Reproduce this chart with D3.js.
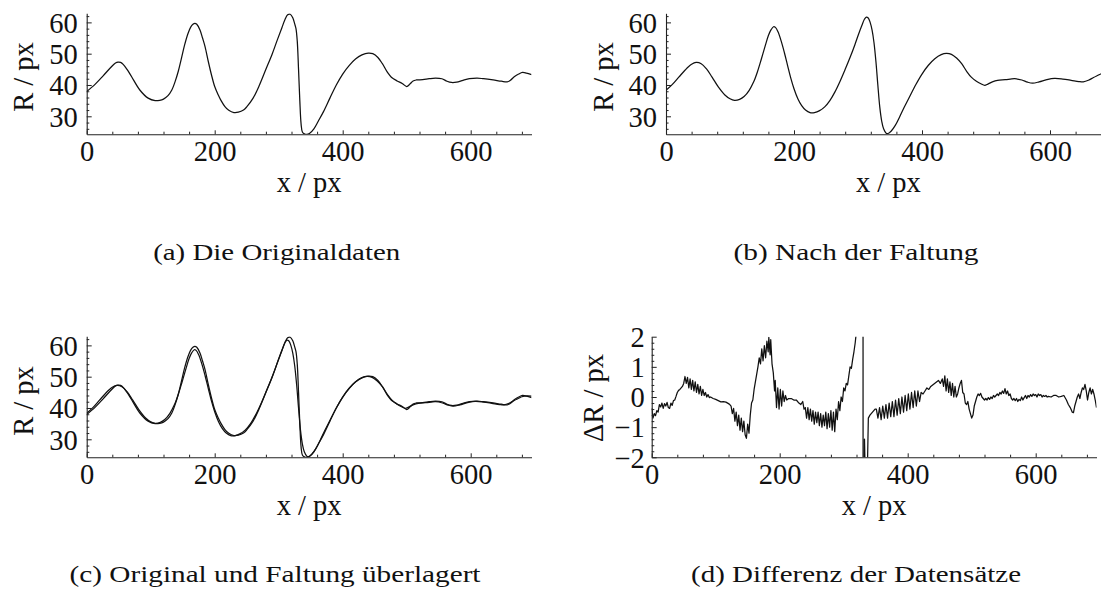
<!DOCTYPE html>
<html>
<head>
<meta charset="utf-8">
<script src="https://cdn.jsdelivr.net/npm/d3@7"></script>
<style>
  html, body { margin: 0; padding: 0; background: #fff; }
  svg { display: block; }
</style>
</head>
<body>
<svg id="chart" width="1101" height="590"></svg>
<script>
// ---------------- DATA ----------------
// (a) original radius profile R(x) in px: [x, R]
const originalData = [
  [0,37.9],[13,40.2],[26,43.0],[39,45.9],[45,47.0],[49,47.3],[53,47.2],[57,46.6],[63,45.0],
  [70,42.7],[83,38.4],[96,35.8],[107,35.0],[114,35.1],[120,35.5],[127,36.6],[133,38.4],
  [138,41.0],[143,44.3],[148,48.5],[153,52.8],[158,56.3],[162.5,58.5],[166,59.4],[169,59.7],
  [172,59.4],[177,57.6],[181,55.0],[185,52.2],[190,47.5],[195,43.2],[200,39.5],[205.6,36.8],
  [210,35.0],[216,33.1],[222,31.9],[230,31.2],[237,31.3],[245,32.0],[250,33.0],[260,35.8],
  [270,40.0],[280,45.0],[290,50.0],[298,54.5],[305,58.3],[310,61.0],[314,62.4],[318,62.6],
  [322,61.5],[325,59.5],[327,58.0],[329,54.0],[331,45.0],[333,35.0],[335,27.5],[337,25.0],
  [340,24.4],[344,24.2],[348,24.5],[355,26.0],[362,28.5],[370,31.5],[380,35.8],[390,40.0],
  [400,43.5],[410,46.2],[420,48.3],[430,49.6],[440,50.2],[447,50.0],[455,48.8],[462,46.8],
  [470,44.0],[476,42.5],[485,41.3],[493,40.5],[500,39.5],[505,40.3],[510,41.3],[515,41.6],
  [525,41.7],[535,42.0],[545,42.2],[555,42.0],[563,41.2],[570,40.8],[578,40.9],[588,41.5],
  [598,42.0],[610,42.2],[620,42.0],[635,41.6],[648,41.2],[657,41.0],[662,41.5],[668,42.6],
  [675,43.5],[681,44.0],[687,43.8],[695,43.3]
];

// (b) after convolution: [x, R]
const convolvedData = [
  [0,38.3],[10,40.2],[20,42.5],[30,44.8],[40,46.6],[47,47.2],[55,46.8],[63,45.2],[72,42.5],
  [82,39.3],[92,36.8],[100,35.6],[107,35.1],[115,35.4],[122,36.3],[130,38.3],[137,41.0],
  [143,44.3],[149,48.3],[155,52.5],[160,55.8],[164,57.6],[168,58.6],[171,58.4],[175,57.0],
  [180,54.0],[185,50.3],[190,46.2],[195,42.2],[200,38.8],[206,35.6],[212,33.4],[218,32.0],
  [225,31.2],[232,31.2],[240,31.8],[248,33.0],[256,35.0],[264,37.8],[272,41.2],[280,45.0],
  [288,49.0],[295,52.8],[301,56.3],[306,59.0],[310,61.0],[313,61.7],[316,61.4],[319,60.0],
  [322,57.5],[325,53.5],[328,47.5],[331,40.0],[334,33.0],[337,28.5],[340,26.0],[344,24.6],
  [347,24.5],[352,25.3],[358,27.0],[365,29.8],[372,32.8],[380,36.0],[390,40.0],[400,43.5],
  [410,46.3],[420,48.4],[430,49.7],[438,50.1],[446,49.8],[454,48.6],[462,46.8],[470,44.3],
  [477,42.5],[485,41.2],[492,40.4],[498,39.9],[503,40.3],[510,41.0],[518,41.5],[530,41.7],
  [545,42.0],[556,41.6],[565,40.9],[573,40.6],[583,41.0],[595,41.7],[607,42.1],[620,41.9],
  [633,41.5],[645,41.1],[652,41.0],[660,41.5],[668,42.4],[675,43.1],[680,43.6],[688,43.9],[695,43.8]
];

// (d) difference of the data sets: [x, ΔR]
const differenceData = [
  [0,-0.37],[2,-0.7],[4,-0.55],[6,-0.62],[8,-0.45],[10,-0.5],[12,-0.25],[14,-0.33],[16,-0.2],
  [18,-0.38],[20,-0.22],[22,-0.3],[24,-0.18],[26,-0.35],[28,-0.38],[30,-0.2],[32,-0.28],
  [34,-0.12],[36,-0.1],[38,0.02],[40,0.15],[42,0.22],[44,0.25],[46,0.3],[48,0.35],[50,0.45],
  [52,0.68],[54,0.45],[56,0.65],[58,0.3],[60,0.6],[62,0.25],[64,0.55],[66,0.2],[68,0.5],
  [70,0.15],[72,0.42],[74,0.1],[76,0.35],[78,0.05],[80,0.25],[82,0.05],[84,0.15],[86,0.0],
  [88,0.08],[90,-0.02],[92,0.0],[96,-0.05],[100,-0.08],[104,-0.12],[108,-0.16],[112,-0.15],
  [116,-0.17],[120,-0.22],[122,-0.25],[124,-0.3],[126,-0.55],[128,-0.38],[130,-0.8],[132,-0.5],
  [134,-0.95],[136,-0.6],[138,-1.1],[140,-0.7],[142,-1.15],[144,-0.8],[146,-1.25],[148,-1.37],
  [150,-0.9],[152,-1.2],[154,-0.6],[156,-0.2],[158,-0.1],[160,0.25],[162,0.5],[164,0.75],
  [166,1.0],[168,1.3],[170,1.1],[172,1.6],[174,1.2],[176,1.7],[178,1.3],[180,1.85],[182,1.5],
  [183,1.98],[185,1.4],[186,1.9],[188,1.1],[190,0.8],[192,0.2],[193,0.55],[195,-0.35],
  [197,0.3],[199,-0.4],[201,0.25],[203,-0.3],[205,0.2],[207,-0.15],[209,0.05],[211,-0.1],
  [214,-0.05],[218,-0.05],[222,-0.1],[226,-0.1],[230,-0.2],[233,-0.25],[236,-0.15],[238,-0.4],
  [240,-0.35],[242,-0.7],[244,-0.35],[246,-0.75],[248,-0.4],[250,-0.8],[252,-0.45],[254,-0.9],
  [256,-0.5],[258,-0.85],[260,-0.5],[262,-0.95],[264,-0.55],[266,-1.0],[268,-0.6],[270,-0.95],
  [272,-0.5],[274,-1.05],[276,-0.55],[278,-1.0],[280,-0.45],[282,-1.1],[284,-0.5],[286,-1.15],
  [288,-0.4],[290,-0.75],[292,-0.15],[294,-0.45],[296,0.0],[298,-0.15],[300,0.3],[302,0.2],
  [304,0.45],[306,0.4],[308,0.7],[310,1.0],[312,0.95],[314,1.25],[316,1.5],[318,1.8],
  [320,2.2],[323,3.5],[326,6],[329,12],[330,20],[330.5,-20],[332.5,-1.4],[334,-3],[336.5,-3],
  [338.5,-0.7],[341,-0.6],[343,-0.55],[345,-0.5],[347,-0.45],[349,-0.4],[351,-0.4],
  [353.5,-0.7],[356,-0.35],[358.5,-0.75],[361,-0.3],[363.5,-0.7],[366,-0.25],[368.5,-0.7],
  [371,-0.2],[373.5,-0.65],[376,-0.15],[378.5,-0.65],[381,-0.1],[383.5,-0.6],[386,-0.05],
  [388.5,-0.55],[391,0.0],[393.5,-0.5],[396,0.05],[398.5,-0.45],[401,0.1],[403.5,-0.4],
  [406,0.15],[408.5,-0.35],[411,0.2],[413.5,-0.3],[416,0.2],[418.5,-0.15],[421,0.15],
  [424,0.1],[427,0.2],[430,0.3],[433,0.25],[436,0.35],[439,0.4],[442,0.45],[445,0.5],
  [448,0.55],[451,0.45],[454,0.6],[456,0.35],[458,0.7],[460,0.2],[462,0.6],[464,0.15],
  [466,0.5],[468,0.05],[470,0.45],[472,0.0],[474,0.35],[476,0.0],[478,0.1],[480,0.3],
  [482,0.45],[484,0.55],[486,0.15],[488,0.1],[490,-0.2],[492,-0.25],[494,-0.15],[496,-0.4],
  [498,-0.55],[500,-0.7],[502,-0.6],[504,-0.3],[506,-0.15],[508,0.0],[510,0.1],[512,0.05],
  [514,0.12],[516,0.0],[518,-0.05],[520,-0.1],[522,-0.05],[524,-0.1],[526,-0.02],[528,-0.08],
  [530,0.0],[532,-0.05],[534,0.05],[536,0.0],[538,0.05],[540,0.1],[542,0.05],[544,0.15],
  [546,0.1],[548,0.2],[550,0.12],[552,0.28],[554,0.1],[556,0.2],[558,0.05],[560,0.1],
  [562,-0.05],[564,-0.1],[566,-0.05],[568,-0.12],[570,-0.05],[572,-0.15],[574,-0.08],
  [576,-0.12],[578,0.0],[580,-0.1],[582,-0.02],[584,0.05],[586,-0.05],[588,0.05],[590,0.0],
  [592,0.08],[594,0.02],[596,0.1],[598,0.05],[600,0.08],[602,0.0],[604,0.1],[606,0.05],
  [608,0.08],[610,0.0],[612,0.05],[614,0.02],[616,0.05],[618,0.0],[620,0.02],[624,0.0],
  [628,0.05],[632,0.05],[636,0.0],[640,0.02],[644,0.05],[648,-0.1],[651,-0.25],[654,-0.35],
  [657,-0.5],[659,-0.52],[661,-0.3],[663,-0.15],[665,0.0],[667,0.1],[669,-0.05],[671,0.15],
  [673,0.3],[675,0.25],[677,0.42],[679,0.2],[681,-0.1],[683,0.15],[685,0.3],[687,0.1],
  [689,0.25],[691,0.1],[693,-0.1],[695,-0.35]
];

// tick values
const xMajorTicks = [0, 200, 400, 600];
const xMinorTicks = [40, 80, 120, 160, 240, 280, 320, 360, 440, 480, 520, 560, 640, 680];
const rMajorTicks = [30, 40, 50, 60];
const rMinorTicks = [26, 28, 32, 34, 36, 38, 42, 44, 46, 48, 52, 54, 56, 58, 62];
const dMajorTicks = [-2, -1, 0, 1, 2];
const dMinorTicks = [-1.8,-1.6,-1.4,-1.2,-0.8,-0.6,-0.4,-0.2,0.2,0.4,0.6,0.8,1.2,1.4,1.6,1.8];

// axis titles and captions
const xTitle = "x / px";
const rTitle = "R / px";
const dTitle = "\u0394R / px";
const captions = ["(a) Die Originaldaten", "(b) Nach der Faltung",
                  "(c) Original und Faltung \u00fcberlagert", "(d) Differenz der Datens\u00e4tze"];

// ---------------- LAYOUT ----------------
const svg = d3.select("#chart");
const tickFont = "'Liberation Serif', 'Times New Roman', serif";
const tickSize = 28.5;

const panels = [
  { id: "a", left: 86.7, top: 13.3, bottom: 134.3, xMax: 695, yDom: [24.25, 62.9],
    yMaj: rMajorTicks, yMin: rMinorTicks, yFmt: d3.format("d"), ytitle: rTitle,
    ytx: 33.3, yty: 77, lblPad: 9, series: [originalData], curve: "smooth",
    cap: captions[0], capX: 276.7, capY: 260, capW: 247 },
  { id: "b", left: 666, top: 13.3, bottom: 134.3, xMax: 695, yDom: [24.25, 62.9],
    yMaj: rMajorTicks, yMin: rMinorTicks, yFmt: d3.format("d"), ytitle: rTitle,
    ytx: 612.6, yty: 77, lblPad: 9, series: [convolvedData], curve: "smooth",
    cap: captions[1], capX: 856, capY: 260, capW: 245 },
  { id: "c", left: 86.7, top: 336.3, bottom: 457.3, xMax: 695, yDom: [24.25, 62.9],
    yMaj: rMajorTicks, yMin: rMinorTicks, yFmt: d3.format("d"), ytitle: rTitle,
    ytx: 33.3, yty: 401, lblPad: 9, series: [originalData, convolvedData], curve: "smooth",
    cap: captions[2], capX: 275, capY: 582, capW: 411 },
  { id: "d", left: 651.7, top: 336.7, bottom: 457.3, xMax: 695, yDom: [-2, 2],
    yMaj: dMajorTicks, yMin: dMinorTicks, yFmt: d3.format("d"), ytitle: dTitle,
    ytx: 603, yty: 398, lblPad: 7, series: [differenceData], curve: "linear",
    cap: captions[3], capX: 856, capY: 582, capW: 330 }
];

const pxPerUnit = 0.64;

panels.forEach(p => {
  const right = p.left + p.xMax * pxPerUnit;
  const x = d3.scaleLinear().domain([0, p.xMax]).range([p.left, right]);
  const y = d3.scaleLinear().domain(p.yDom).range([p.bottom, p.top]);
  const g = svg.append("g").attr("class", "panel-" + p.id);

  // clip
  const clipId = "clip-" + p.id;
  svg.append("clipPath").attr("id", clipId)
    .append("rect").attr("x", p.left).attr("y", p.top)
    .attr("width", right - p.left).attr("height", p.bottom - p.top);

  // data lines
  const line = d3.line()
    .x(d => x(d[0])).y(d => y(d[1]))
    .curve(p.curve === "smooth" ? d3.curveCatmullRom.alpha(0.5) : d3.curveLinear);
  const lg = g.append("g").attr("clip-path", `url(#${clipId})`);
  p.series.forEach(s => {
    lg.append("path").datum(s).attr("d", line)
      .attr("fill", "none").attr("stroke", "#111").attr("stroke-width", 1.25)
      .attr("stroke-linejoin", "round");
  });

  // x axis: minor ticks
  g.append("g").attr("transform", `translate(0,${p.bottom})`)
    .call(d3.axisBottom(x).tickValues(xMinorTicks).tickSizeInner(-2.6).tickSizeOuter(0).tickFormat(""))
    .call(a => a.select(".domain").remove());
  // x axis: major ticks + labels
  g.append("g").attr("transform", `translate(0,${p.bottom})`)
    .call(d3.axisBottom(x).tickValues(xMajorTicks).tickSizeInner(-4).tickSizeOuter(0)
      .tickPadding(6).tickFormat(d3.format("d")));

  // y axis minor
  g.append("g").attr("transform", `translate(${p.left},0)`)
    .call(d3.axisLeft(y).tickValues(p.yMin).tickSizeInner(-2.6).tickSizeOuter(0).tickFormat(""))
    .call(a => a.select(".domain").remove());
  // y axis major
  const ya = g.append("g").attr("transform", `translate(${p.left},0)`)
    .call(d3.axisLeft(y).tickValues(p.yMaj).tickSizeInner(-5).tickSizeOuter(0)
      .tickPadding(p.lblPad).tickFormat(p.yFmt));

  g.selectAll(".domain").attr("stroke", "#222").attr("stroke-width", 1.1);
  g.selectAll(".tick line").attr("stroke", "#222").attr("stroke-width", 1);
  g.selectAll(".tick text")
    .attr("font-family", tickFont).attr("font-size", tickSize).attr("fill", "#111");
  ya.selectAll(".tick text").attr("dy", "0.34em");

  // axis titles
  g.append("text")
    .attr("x", p.left + (right - p.left) / 2).attr("y", p.bottom + 57.7)
    .attr("text-anchor", "middle")
    .attr("font-family", tickFont).attr("font-size", tickSize).attr("fill", "#111")
    .text(xTitle);
  g.append("text")
    .attr("transform", `translate(${p.ytx},${p.yty}) rotate(-90)`)
    .attr("text-anchor", "middle")
    .attr("font-family", tickFont).attr("font-size", tickSize).attr("fill", "#111")
    .text(p.ytitle);

  // caption (Computer-Modern-like: wide serif glyphs)
  svg.append("text")
    .attr("x", p.capX - p.capW / 2).attr("y", p.capY)
    .attr("textLength", p.capW).attr("lengthAdjust", "spacingAndGlyphs")
    .attr("font-family", tickFont).attr("font-size", 22.5).attr("fill", "#111")
    .text(p.cap);
});
</script>
</body>
</html>
